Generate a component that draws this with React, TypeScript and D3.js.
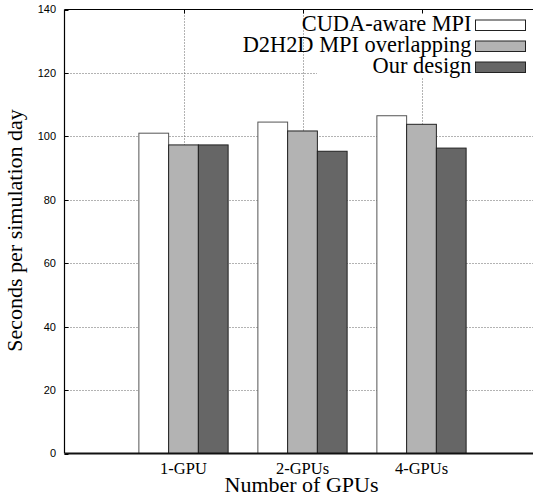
import React from "react";
import * as d3 from "d3";

const categories = ["1-GPU", "2-GPUs", "4-GPUs"];
const seriesNames = ["CUDA-aware MPI", "D2H2D MPI overlapping", "Our design"];
const cudaAware = [101.0, 104.5, 106.5];
const d2h2d = [97.3, 101.7, 103.8];
const ourDesign = [97.3, 95.3, 96.3];
const yTicks = [0, 20, 40, 60, 80, 100, 120, 140];
const seriesColors = ["#ffffff", "#b3b3b3", "#666666"];

const W = 533;
const H = 493;

export default function App() {
  const left = 64.5;
  const right = 540.5;
  const top = 9.5;
  const bottom = 453.5;
  const x = d3.scaleLinear().domain([-1, 3]).range([left, right]);
  const y = d3.scaleLinear().domain([0, 140]).range([bottom, top]);
  const series = [cudaAware, d2h2d, ourDesign];
  const barW = 0.25;
  const serif = "'Liberation Serif', 'Times New Roman', serif";
  const sans = "'Liberation Sans', Arial, sans-serif";

  const legendRows = [25, 46, 67];

  return (
    <svg width={W} height={H} style={{ position: "absolute", left: 0, top: 0, background: "#fff" }}>
      <rect x={0} y={0} width={W} height={H} fill="#fff" />
      {/* grid */}
      {yTicks.filter((t) => t > 0 && t < 140).map((t) => (
        <line key={"gy" + t} x1={left} x2={right} y1={Math.round(y(t)) + 0.5} y2={Math.round(y(t)) + 0.5}
          stroke="#666" strokeWidth={1} strokeDasharray="1,2" />
      ))}
      {categories.map((c, i) => (
        <line key={"gx" + c} x1={Math.round(x(i)) + 0.5} x2={Math.round(x(i)) + 0.5} y1={top} y2={bottom}
          stroke="#666" strokeWidth={1} strokeDasharray="1,2" />
      ))}
      {/* legend background */}
      <rect x={317} y={13} width={right - 317} height={65} fill="#fff" />
      {/* bars */}
      {categories.map((c, i) =>
        series.map((s, k) => {
          const x0 = x(i - 1.5 * barW + k * barW);
          const x1 = x(i - 1.5 * barW + (k + 1) * barW);
          return (
            <rect key={c + k} x={x0} y={y(s[i])} width={x1 - x0} height={y(0) - y(s[i])}
              fill={seriesColors[k]} stroke={k === 0 ? "#555" : "#222"} strokeWidth={1} />
          );
        })
      )}
      {/* legend */}
      {seriesNames.map((n, k) => (
        <g key={n}>
          <text x={471.5} y={legendRows[k] + 6} textAnchor="end" fontFamily={serif} fontSize={22.4} fill="#000">{n}</text>
          <rect x={475.5} y={legendRows[k] - 5} width={50} height={10.5} fill={seriesColors[k]} stroke="#222" strokeWidth={1} />
        </g>
      ))}
      {/* borders */}
      <line x1={left} x2={right} y1={top} y2={top} stroke="#000" strokeWidth={1} />
      <line x1={left} x2={left} y1={top} y2={bottom} stroke="#000" strokeWidth={1.2} />
      <line x1={left} x2={right} y1={bottom} y2={bottom} stroke="#111" strokeWidth={1.8} />
      {/* y ticks */}
      {yTicks.map((t) => (
        <g key={"yt" + t}>
          <line x1={left} x2={left + 4} y1={Math.round(y(t)) + 0.5} y2={Math.round(y(t)) + 0.5} stroke="#000" />
          <text x={56} y={y(t)} dy="0.36em" textAnchor="end" fontFamily={sans} fontSize={11} fill="#000">{t}</text>
        </g>
      ))}
      {/* x ticks */}
      {categories.map((c, i) => (
        <g key={"xt" + c}>
          <line x1={Math.round(x(i)) + 0.5} x2={Math.round(x(i)) + 0.5} y1={top} y2={top + 4} stroke="#000" />
          <text x={x(i)} y={473.5} textAnchor="middle" fontFamily={serif} fontSize={16.5} fill="#000">{c}</text>
        </g>
      ))}
      <text x={(left + right) / 2 - 1} y={492} textAnchor="middle" fontFamily={serif} fontSize={22} fill="#000">Number of GPUs</text>
      <text transform={`translate(22, ${(top + bottom) / 2 - 1}) rotate(-90)`} textAnchor="middle" fontFamily={serif} fontSize={22} fill="#000">Seconds per simulation day</text>
    </svg>
  );
}
